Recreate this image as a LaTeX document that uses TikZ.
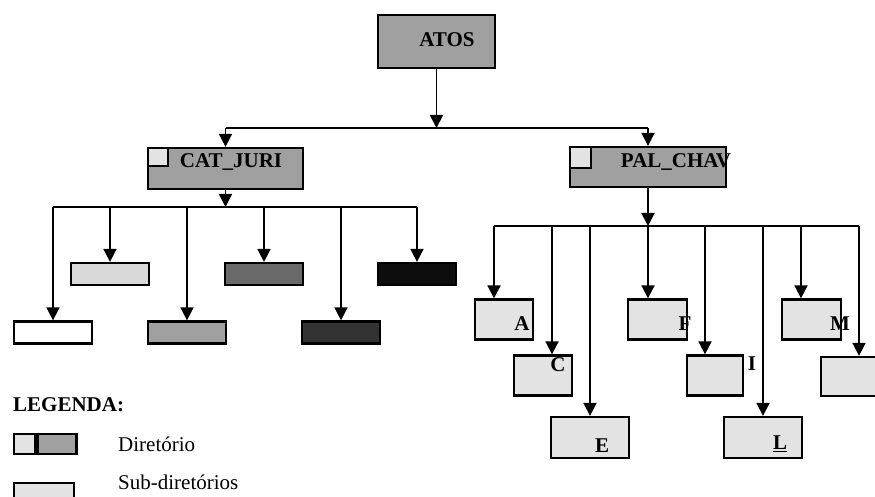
\documentclass[tikz,border=0pt]{standalone}
\usepackage{fontspec}
\setmainfont{Liberation Serif}
\usetikzlibrary{arrows.meta}
\tikzset{>={Triangle[length=13pt,width=13pt]}}
\definecolor{cinza}{RGB}{160,160,160}
\definecolor{claro}{RGB}{227,227,227}
\definecolor{cinzaA}{RGB}{217,217,217}
\definecolor{cinzaB}{RGB}{105,105,105}
\definecolor{cinzaC}{RGB}{51,51,51}
\definecolor{cinzaD}{RGB}{13,13,13}
\tikzset{
	caixa/.style={draw, line width=2.3pt, inner sep=0pt},
	pasta/.style={caixa, fill=cinza},
	sub/.style={caixa, fill=claro, minimum width=58pt, minimum height=40pt},
	barra/.style={caixa, minimum width=78pt, minimum height=22pt},
	rot/.style={font=\fontsize{21}{24}\selectfont\bfseries, inner sep=0pt},
	txt/.style={font=\fontsize{21}{24}\selectfont, inner sep=0pt, anchor=west},
	seta/.style={->, line width=1.8pt},
	linha/.style={line width=1.8pt}
}

\begin{document}
\begin{tikzpicture}[x=1pt, y=-1pt]
	\useasboundingbox (0, 0) rectangle (875, 497);
	% raiz
	\node[pasta, minimum width=117pt, minimum height=53pt](atos) at (436.5, 41.5){};
	\node[rot](tatos) at (447, 40){ATOS};
	\node[pasta, minimum width=155pt, minimum height=41pt](cat) at (225.5, 168.5){};
	\node[caixa, fill=claro, minimum width=20pt, minimum height=18pt, anchor=north west](qcat) at (cat.north west){};
	\node[rot](tcat) at (231, 162){CAT\_JURI};
	\node[pasta, minimum width=156pt, minimum height=40pt](pal) at (648, 167){};
	\node[caixa, fill=claro, minimum width=21pt, minimum height=21pt, anchor=north west](qpal) at (pal.north west){};
	\node[rot](tpal) at (676, 162){PAL\_CHAV};
	\coordinate (topo) at (0, 128);
	\draw[seta](atos.south) -- (atos.south |- topo);
	\draw[linha](cat.north |- topo) -- (pal.north |- topo);
	\draw[seta](cat.north |- topo) -- (cat.north);
	\draw[seta](pal.north |- topo) -- (pal.north);
	% CAT_JURI
	\foreach \n/\x/\y/\c in {l1/53/332.5/white, l2/110/274/cinzaA, l3/187/332.5/cinza, l4/264/274/cinzaB, l5/341/332.5/cinzaC, l6/417/274/cinzaD}
		\node[barra, fill=\c](\n) at (\x, \y){};
	\coordinate (esq) at (0, 207);
	\draw[seta](cat.south) -- (cat.south |- esq);
	\draw[linha](l1.north |- esq) -- (l6.north |- esq);
	\foreach \n in {l1, l2, l3, l4, l5, l6}
		\draw[seta](\n.north |- esq) -- (\n.north);
	% PAL_CHAV
	\node[sub](A) at (504, 319.5){};
	\node[sub](C) at (543, 375.5){};
	\node[sub, minimum width=78pt, minimum height=41pt](E) at (590, 437.5){};
	\node[sub, minimum width=59pt](F) at (657.5, 319.5){};
	\node[sub, minimum width=56pt](I) at (715, 375.5){};
	\node[sub, minimum width=78pt, minimum height=41pt](L) at (763, 437.5){};
	\node[sub, minimum width=59pt](M) at (811.5, 319.5){};
	\node[sub, minimum height=39pt](N) at (850, 376.5){};
	\node[rot](tA) at (522, 324){A};
	\node[rot](tC) at (558, 365){C};
	\node[rot](tE) at (602, 446){E};
	\node[rot](tF) at (685, 324){F};
	\node[rot](tI) at (752, 364){I};
	\node[rot](tL) at (780, 444){\underline{L}};
	\node[rot](tM) at (840, 324){M};
	\coordinate (dir) at (0, 226);
	\draw[seta](pal.south) -- (pal.south |- dir);
	\foreach \n/\x in {A/494, C/552, E/590, F/648, I/705, L/763, M/801, N/859}{
		\coordinate (p\n) at (\x, 226);
		\draw[seta](p\n) -- (p\n |- \n.north);
	}
	\draw[linha](pA) -- (pN);
	% legenda
	\node[rot, anchor=west](leg) at (13, 405){LEGENDA:};
	\node[caixa, fill=claro, minimum width=21pt, minimum height=20pt, anchor=north west](lg1) at (13, 433){};
	\node[caixa, fill=cinza, minimum width=39pt, minimum height=20pt, anchor=west](lg2) at (lg1.east){};
	\node[txt](tdir) at (118, 444){Diretório};
	\node[caixa, fill=claro, minimum width=60pt, minimum height=22pt, anchor=north west](lg3) at (13, 482){};
	\node[txt](tsub) at (118, 482){Sub-diretórios};
\end{tikzpicture}
\end{document}
